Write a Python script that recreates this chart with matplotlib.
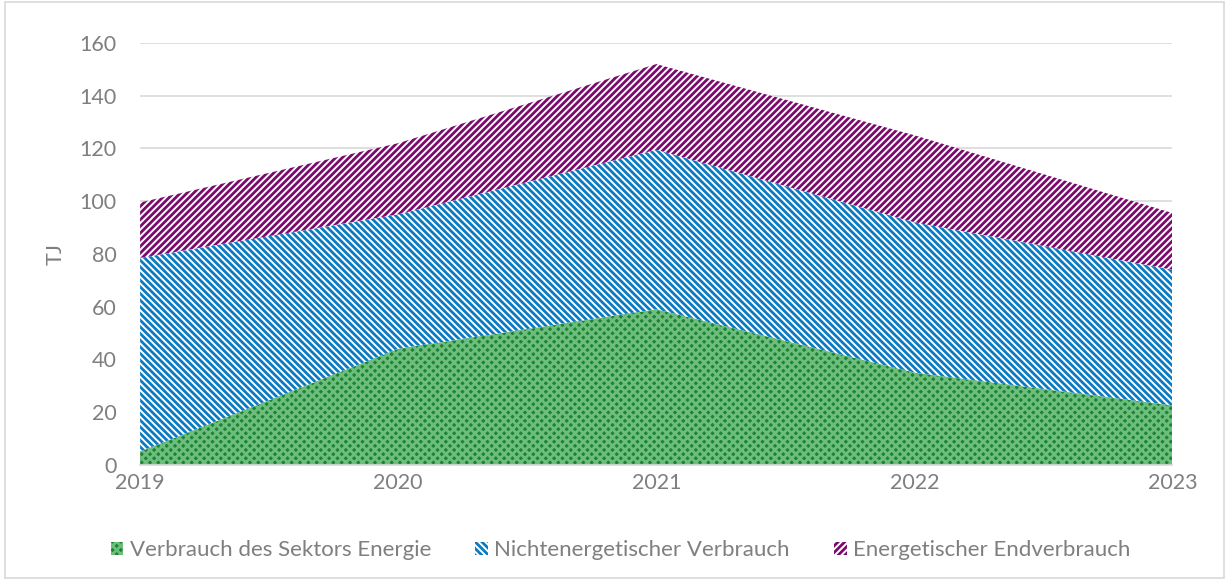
import numpy as np
import matplotlib.pyplot as plt
from matplotlib.patches import Rectangle

# --- DATOS ---
jahre = [2019, 2020, 2021, 2022, 2023]
sektor_energie = [5, 44, 59, 35, 22.5]
nichtenergetisch = [73.5, 51, 60.5, 57, 51.5]
endverbrauch = [21, 27, 32.5, 33, 21.5]

serien = ["Verbrauch des Sektors Energie", "Nichtenergetischer Verbrauch", "Energetischer Endverbrauch"]
y_ticks = [0, 20, 40, 60, 80, 100, 120, 140, 160]

# --- ESTILO ---
plt.rcParams['font.family'] = ['Lato', 'DejaVu Sans']
plt.rcParams['hatch.linewidth'] = 2.0
gris_texto = '#7f7f7f'

fig = plt.figure(figsize=(12.29, 5.81), dpi=100)
ax = fig.add_axes([0.114, 0.2, 0.840, 0.726])

polys = ax.stackplot(jahre, sektor_energie, nichtenergetisch, endverbrauch, labels=serien)

# Relleno con patrones (tipo Excel)
estilos = [
    dict(face='#1a8535', hatch='xxxx', edge='#6fbd7d'),
    dict(face='white', hatch='\\' * 5, edge='#0a7bc2'),
    dict(face='white', hatch='/' * 5, edge='#7c0a6e'),
]
for p, e in zip(polys, estilos):
    p.set_facecolor(e['face'])
    p.set_edgecolor(e['edge'])
    p.set_hatch(e['hatch'])
    p.set_linewidth(0)

ax.set_xlim(2019, 2023)
ax.set_ylim(0, 160)
ax.set_yticks(y_ticks)
ax.set_xticks(jahre)
ax.grid(axis='y', color='#d9d9d9', linewidth=1.2)
ax.set_axisbelow(True)

for lado in ['top', 'right', 'left']:
    ax.spines[lado].set_visible(False)
ax.spines['bottom'].set_color('#d9d9d9')
ax.spines['bottom'].set_linewidth(1.2)
ax.tick_params(length=0, labelsize=15.5, labelcolor=gris_texto)
ax.tick_params(axis='x', pad=6)
ax.tick_params(axis='y', pad=17)
ax.set_ylabel("TJ", fontsize=15.5, color=gris_texto, labelpad=10)

# Leyenda inferior
leg = fig.legend(loc='center', bbox_to_anchor=(0.505, 0.053), ncol=3, frameon=False,
                 fontsize=16, handlelength=0.55, handleheight=0.55, handletextpad=0.3,
                 columnspacing=2.0)
for t in leg.get_texts():
    t.set_color(gris_texto)

# Borde del área del gráfico
fig.patches.append(Rectangle((0.004, 0.006), 0.992, 0.99, transform=fig.transFigure,
                             fill=False, edgecolor='#d9d9d9', linewidth=1.2))

fig.savefig("out.png", dpi=100)
